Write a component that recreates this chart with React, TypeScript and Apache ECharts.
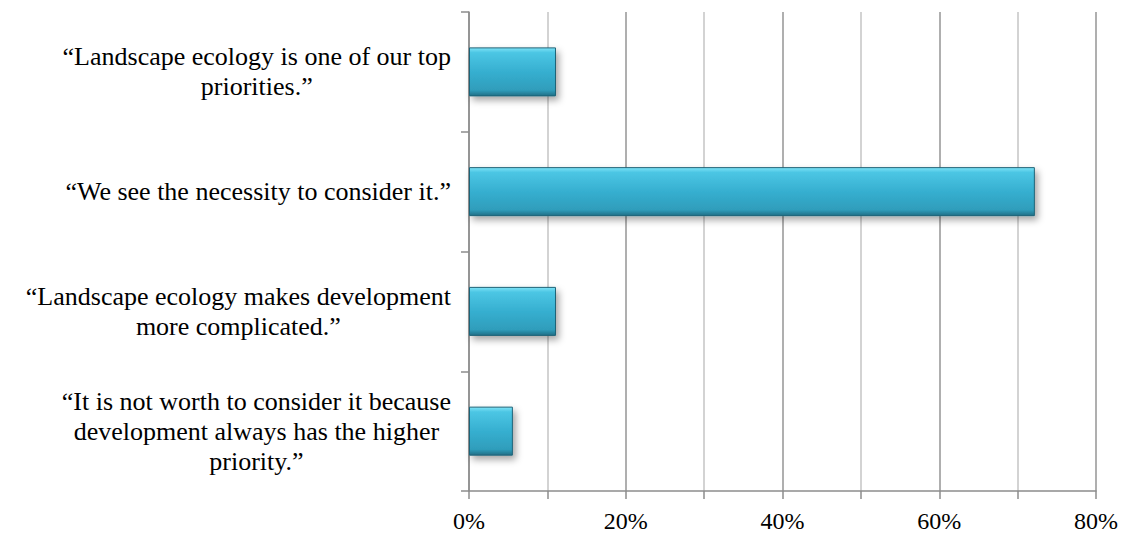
import React, { useEffect, useRef } from "react";
import * as echarts from "echarts";

const categories: string[] = [
  "“Landscape ecology is one of our top\npriorities.”",
  "“We see the necessity to consider it.”",
  "“Landscape ecology makes development\nmore complicated.”",
  "“It is not worth to consider it because\ndevelopment always has the higher\npriority.”",
];
const values: number[] = [11.1, 72.2, 11.1, 5.6];
const xTicks: number[] = [0, 20, 40, 60, 80];

const FONT = "'Liberation Serif', 'Times New Roman', serif";

export default function App() {
  const ref = useRef<HTMLDivElement>(null);
  useEffect(() => {
    if (!ref.current) return;
    const chart = echarts.init(ref.current, undefined, { renderer: "svg" });
    chart.setOption({
      animation: false,
      backgroundColor: "#ffffff",
      grid: { left: 469, right: 24, top: 12, bottom: 45, containLabel: false },
      xAxis: {
        type: "value",
        min: xTicks[0],
        max: xTicks[xTicks.length - 1],
        interval: xTicks[1] - xTicks[0],
        axisLine: { show: true, lineStyle: { color: "#8c8c8c", width: 1.5 } },
        axisTick: { show: true, length: 8, lineStyle: { color: "#8c8c8c", width: 1.5 } },
        minorTick: { show: true, splitNumber: 2, length: 8, lineStyle: { color: "#8c8c8c", width: 1.5 } },
        splitLine: { show: true, lineStyle: { color: "#959595", width: 1.5 } },
        minorSplitLine: { show: true, lineStyle: { color: "#c4c4c4", width: 1.5 } },
        axisLabel: {
          formatter: "{value}%",
          color: "#000",
          fontFamily: FONT,
          fontSize: 24,
          margin: 18,
        },
      },
      yAxis: {
        type: "category",
        inverse: true,
        data: categories,
        axisLine: { show: true, lineStyle: { color: "#8c8c8c", width: 1.5 } },
        axisTick: { show: true, length: 8, alignWithLabel: false, lineStyle: { color: "#8c8c8c", width: 1.5 } },
        splitLine: { show: false },
        axisLabel: {
          margin: 18,
          color: "#000",
          fontFamily: FONT,
          fontSize: 26,
          lineHeight: 30,
          formatter: (v: string) =>
            v
              .split("\n")
              .map((l) => "{c|" + l + "}")
              .join("\n"),
          rich: {
            c: {
              align: "center",
              color: "#000",
              fontFamily: FONT,
              fontSize: 26,
              lineHeight: 30,
            },
          },
        },
      },
      series: [
        {
          type: "bar",
          data: values,
          barWidth: 49,
          itemStyle: {
            color: new echarts.graphic.LinearGradient(0, 0, 0, 1, [
              { offset: 0, color: "#7ee3f7" },
              { offset: 0.1, color: "#4cc6e4" },
              { offset: 0.5, color: "#36afd0" },
              { offset: 0.88, color: "#2f9dbb" },
              { offset: 1, color: "#216f86" },
            ]),
            borderColor: "#1f6478",
            borderWidth: 1,
            shadowColor: "rgba(0,0,0,0.35)",
            shadowBlur: 7,
            shadowOffsetX: 3,
            shadowOffsetY: 4,
          },
        },
      ],
    });
    return () => chart.dispose();
  }, []);
  return (
    <div
      ref={ref}
      style={{ position: "fixed", left: 0, top: 0, width: "1121px", height: "536px" }}
    />
  );
}
